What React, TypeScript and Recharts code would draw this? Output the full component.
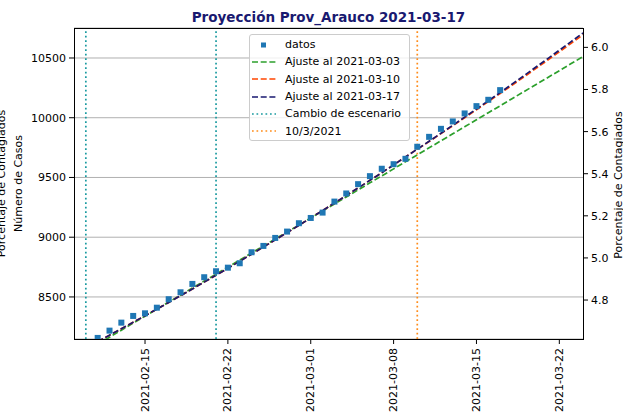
import {
  ComposedChart,
  Line,
  Scatter,
  XAxis,
  YAxis,
  CartesianGrid,
  ReferenceLine,
  Legend,
} from "recharts";

const FONT = "DejaVu Sans, Verdana, sans-serif";

// dates are turned into days counted from the left edge of the x axis
const startDate = "2021-02-09";
const endDate = "2021-03-24";
const xTickDates = ["2021-02-15", "2021-02-22", "2021-03-01", "2021-03-08", "2021-03-15", "2021-03-22"];

const caseDomain = [8148, 10751];
const caseTicks = [8500, 9000, 9500, 10000, 10500];
const pctDomain = [4.615, 6.092];
const pctTicks = [4.8, 5.0, 5.2, 5.4, 5.6, 5.8, 6.0];

// datos: one value per day from 2021-02-11 to 2021-03-17
const firstCaseDate = "2021-02-11";
const cases = [
  8157, 8218, 8285, 8341, 8363, 8410, 8481, 8539, 8609, 8665, 8715, 8745, 8782, 8874, 8927, 8994, 9047,
  9117, 9161, 9206, 9298, 9366, 9444, 9511, 9573, 9611, 9656, 9757, 9840, 9907, 9969, 10036, 10097, 10150,
  10231,
];

// fitted curves: one value per day from 2021-02-11 to 2021-03-24
const firstFitDate = "2021-02-11";
const fit0303 = [
  8104, 8163, 8222, 8281, 8339, 8398, 8457, 8515, 8574, 8633, 8691, 8750, 8809, 8868, 8926, 8985, 9044,
  9102, 9161, 9220, 9278, 9337, 9396, 9455, 9513, 9572, 9631, 9689, 9748, 9807, 9865, 9924, 9983, 10042,
  10100, 10159, 10218, 10276, 10335, 10394, 10453, 10511,
];
const fit0310 = [
  8126, 8180, 8234, 8288, 8343, 8398, 8454, 8510, 8567, 8624, 8682, 8740, 8799, 8858, 8918, 8978, 9038,
  9099, 9161, 9223, 9286, 9349, 9412, 9476, 9540, 9605, 9671, 9737, 9801, 9867, 9933, 10000, 10067, 10135,
  10203, 10272, 10341, 10411, 10481, 10552, 10623, 10694,
];
const fit0317 = [
  8126, 8180, 8234, 8288, 8343, 8398, 8454, 8510, 8567, 8624, 8682, 8740, 8799, 8858, 8918, 8978, 9038,
  9099, 9161, 9223, 9286, 9349, 9412, 9476, 9540, 9605, 9671, 9737, 9803, 9870, 9937, 10005, 10073, 10142,
  10211, 10281, 10351, 10422, 10493, 10565, 10637, 10709,
];

const scenarioDates = ["2021-02-10", "2021-02-21"];
const markDate = "2021-03-10";

const dayOf = (d: string) => Math.round((Date.parse(d) - Date.parse(startDate)) / 86400000);

const xTicks = xTickDates.map(dayOf);
const caseStart = dayOf(firstCaseDate);
const fitStart = dayOf(firstFitDate);

const pointRows = cases.map((v, i) => ({ day: caseStart + i, cases: v }));
const fitRows = fit0317.map((v, i) => ({
  day: fitStart + i,
  a: fit0303[i],
  b: fit0310[i],
  c: fit0317[i],
}));

const legendItems = [
  { label: "datos", color: "#1f77b4", kind: "square" },
  { label: "Ajuste al 2021-03-03", color: "#2ca02c", kind: "dash" },
  { label: "Ajuste al 2021-03-10", color: "#ff4500", kind: "dash" },
  { label: "Ajuste al 2021-03-17", color: "#191970", kind: "dash" },
  { label: "Cambio de escenario", color: "#1a9aa0", kind: "dot" },
  { label: "10/3/2021", color: "#ff8c1a", kind: "dot" },
];

const DASH = "6 2.7";
const DOT = "1.7 2.8";

function XTick(props: any) {
  const { x, y, payload } = props;
  const label = xTickDates[xTicks.indexOf(payload.value)];
  return (
    <text
      x={x}
      y={y}
      transform={`rotate(-90, ${x}, ${y})`}
      textAnchor="end"
      dominantBaseline="central"
      fontFamily={FONT}
      fontSize={11}
      fill="#000"
    >
      {label}
    </text>
  );
}

function Square(props: any) {
  const { cx, cy } = props;
  return <rect x={cx - 3} y={cy - 3} width={6} height={6} fill="#1f77b4" />;
}

function LegendBox() {
  return (
    <div
      style={{
        width: 161,
        height: 107,
        boxSizing: "border-box",
        background: "rgba(255,255,255,0.8)",
        border: "1px solid #cccccc",
        borderRadius: 3,
        fontFamily: FONT,
        fontSize: 11,
        color: "#000",
        paddingTop: 1,
      }}
    >
      {legendItems.map((it) => (
        <div key={it.label} style={{ display: "flex", alignItems: "center", height: 17.3 }}>
          <svg width={35} height={12} style={{ flex: "none" }}>
            {it.kind === "square" ? (
              <rect x={11} y={3.5} width={5} height={5} fill={it.color} />
            ) : (
              <line
                x1={2}
                y1={6}
                x2={26}
                y2={6}
                stroke={it.color}
                strokeWidth={1.7}
                strokeDasharray={it.kind === "dash" ? DASH : DOT}
              />
            )}
          </svg>
          <span style={{ whiteSpace: "nowrap" }}>{it.label}</span>
        </div>
      ))}
    </div>
  );
}

export default function App() {
  const tickStyle = { fontFamily: FONT, fontSize: 11, fill: "#000" };
  return (
    <div style={{ position: "absolute", left: 0, top: 0, width: 623, height: 416, background: "#fff" }}>
      <ComposedChart
        width={623}
        height={416}
        data={fitRows}
        margin={{ top: 28, right: 0, bottom: 0, left: 24 }}
      >
        <CartesianGrid yAxisId="left" vertical={false} stroke="#b0b0b0" strokeWidth={1} />
        <XAxis
          type="number"
          dataKey="day"
          domain={[dayOf(startDate), dayOf(endDate)]}
          ticks={xTicks}
          interval={0}
          allowDataOverflow
          height={77}
          axisLine={false}
          tickLine={{ stroke: "#000" }}
          tickSize={5}
          tickMargin={4}
          tick={<XTick />}
        />
        <YAxis
          yAxisId="left"
          type="number"
          domain={caseDomain}
          ticks={caseTicks}
          interval={0}
          allowDataOverflow
          width={50}
          axisLine={false}
          tickLine={{ stroke: "#000" }}
          tickSize={5}
          tickMargin={3}
          tick={tickStyle}
        />
        <YAxis
          yAxisId="right"
          orientation="right"
          type="number"
          domain={pctDomain}
          ticks={pctTicks}
          interval={0}
          allowDataOverflow
          width={40}
          axisLine={false}
          tickLine={{ stroke: "#000" }}
          tickSize={5}
          tickMargin={3}
          tick={tickStyle}
          tickFormatter={(v: number) => v.toFixed(1)}
        />
        <Scatter
          yAxisId="left"
          data={pointRows}
          dataKey="cases"
          shape={Square}
          isAnimationActive={false}
          legendType="none"
        />
        <Line
          yAxisId="left"
          dataKey="a"
          stroke="#2ca02c"
          strokeWidth={1.7}
          strokeDasharray={DASH}
          dot={false}
          isAnimationActive={false}
        />
        <Line
          yAxisId="left"
          dataKey="b"
          stroke="#ff4500"
          strokeWidth={1.7}
          strokeDasharray={DASH}
          dot={false}
          isAnimationActive={false}
        />
        <Line
          yAxisId="left"
          dataKey="c"
          stroke="#191970"
          strokeWidth={1.7}
          strokeDasharray={DASH}
          dot={false}
          isAnimationActive={false}
        />
        {scenarioDates.map((d) => (
          <ReferenceLine
            key={d}
            yAxisId="left"
            x={dayOf(d)}
            stroke="#1a9aa0"
            strokeWidth={1.7}
            strokeDasharray={DOT}
          />
        ))}
        <ReferenceLine
          yAxisId="left"
          x={dayOf(markDate)}
          stroke="#ff8c1a"
          strokeWidth={1.7}
          strokeDasharray={DOT}
        />
        <Legend
          layout="horizontal"
          verticalAlign="middle"
          align="center"
          wrapperStyle={{ top: 34, left: 249, width: 161 }}
          content={() => <LegendBox />}
        />
      </ComposedChart>
      <svg
        width={623}
        height={416}
        style={{ position: "absolute", left: 0, top: 0, pointerEvents: "none" }}
      >
        <rect x={74.5} y={28.5} width={509} height={311} fill="none" stroke="#000" strokeWidth={1} />
        <text
          x={328.5}
          y={22}
          textAnchor="middle"
          fontFamily={FONT}
          fontSize={13.5}
          fontWeight="bold"
          fill="#191970"
        >
          Proyección Prov_Arauco 2021-03-17
        </text>
        <text transform="rotate(-90)" x={-183.5} y={22} textAnchor="middle" fontFamily={FONT} fontSize={11}>
          Número de Casos
        </text>
        <text transform="rotate(-90)" x={-183.5} y={5} textAnchor="middle" fontFamily={FONT} fontSize={11}>
          Porcentaje de Contagiados
        </text>
        <text transform="rotate(-90)" x={-185} y={622} textAnchor="middle" fontFamily={FONT} fontSize={11}>
          Porcentaje de Contagiados
        </text>
      </svg>
    </div>
  );
}
